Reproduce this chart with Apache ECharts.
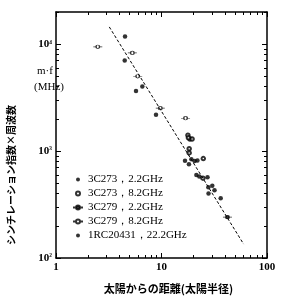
<!DOCTYPE html>
<html>
<head>
<meta charset="utf-8">
<script src="https://cdn.jsdelivr.net/npm/echarts@6/dist/echarts.min.js"></script>
<style>
  html, body { margin: 0; padding: 0; background: #fff; }
  #chart { width: 285px; height: 300px; }
</style>
</head>
<body>
<div id="chart"></div>
<script>
// ---- data (distance in solar radii, m*f in MHz) ----
const names = ['3C273，2.2GHz', '3C273，8.2GHz', '3C279，2.2GHz', '3C279，8.2GHz', '1RC20431，22.2GHz']

const c273s = [[16.7, 811], [18.2, 755], [19.2, 841], [20.6, 806], [21.9, 815], [21.4, 599], [22.8, 577],
  [27.3, 570], [27.8, 459], [30.3, 474], [31.8, 430], [27.9, 401], [36.4, 362]]
const c273x = [[17.8, 1405], [18.6, 1296], [19.5, 1296], [18.0, 1330], [18.3, 1051], [18.3, 962], [24.9, 851], [24.7, 558]]
const c279s = [[42.2, 241]]
const c279x = [[2.49, 9440], [5.29, 8290], [5.95, 5010], [9.74, 2520], [16.9, 2030]]
const rc = [[4.51, 11800], [4.48, 7030], [6.58, 4010], [5.73, 3640], [8.87, 2190]]

// fitted line m*f ~ R^-1.6
const fitLine = [[3.2, 14500], [60, 135]]

const xMajor = [1, 10, 100]
const xMinor = [2, 3, 4, 5, 6, 7, 8, 9, 20, 30, 40, 50, 60, 70, 80, 90]
const yMajor = [100, 1000, 10000]
const yMinor = [200, 300, 400, 500, 600, 700, 800, 900, 2000, 3000, 4000, 5000, 6000, 7000, 8000, 9000, 20000]

const serif = 'Liberation Serif'
const cjk = 'Noto Sans CJK JP'
const barDot = 'path://M0,5L3,5M7,5L10,5M7,5A2,2,0,1,1,3,5A2,2,0,1,1,7,5Z'

const sup = { 2: '²', 3: '³', 4: '⁴' }

function xAx(pos, grid, major) {
  return {
    type: 'log', logBase: 10, min: 1, max: 100, position: pos, gridIndex: grid,
    axisLine: { show: major, lineStyle: { color: '#000', width: 1.5 } },
    axisTick: { show: true, inside: true, length: major ? 5 : 3, customValues: major ? xMajor : xMinor, lineStyle: { color: '#000' } },
    axisLabel: { show: major && pos === 'bottom', customValues: xMajor, margin: 4, color: '#000', fontFamily: serif, fontSize: 11, fontWeight: 'bold' },
    minorTick: { show: false }, splitLine: { show: false }
  }
}
function yAx(pos, grid, major) {
  return {
    type: 'log', logBase: 10, min: 100, max: 20000, position: pos, gridIndex: grid,
    axisLine: { show: major, lineStyle: { color: '#000', width: 1.5 } },
    axisTick: { show: true, inside: true, length: major ? 5 : 3, customValues: major ? yMajor : yMinor, lineStyle: { color: '#000' } },
    axisLabel: {
      show: major && pos === 'left', customValues: yMajor, margin: 4,
      formatter: v => '{a|10}{b|' + sup[Math.round(Math.log10(v))] + '}',
      rich: {
        a: { color: '#000', fontFamily: serif, fontSize: 11, fontWeight: 'bold' },
        b: { color: '#000', fontFamily: serif, fontSize: 9, fontWeight: 'bold', verticalAlign: 'top' }
      }
    },
    minorTick: { show: false }, splitLine: { show: false }
  }
}

let myChart = echarts.init(document.getElementById('chart'))

let option = {
  animation: false,
  grid: [
    { left: 56, right: 18, top: 12, bottom: 42 },
    { left: 56, right: 18, top: 12, bottom: 42 }
  ],
  xAxis: [
    Object.assign(xAx('bottom', 0, true), {
      name: '太陽からの距離(太陽半径)', nameLocation: 'middle', nameGap: 25,
      nameTextStyle: { fontFamily: cjk, fontSize: 11, color: '#000', fontWeight: 'bold', padding: [0, 0, 0, 14] }
    }),
    xAx('top', 0, true),
    xAx('bottom', 1, false),
    xAx('top', 1, false)
  ],
  yAxis: [
    yAx('left', 0, true),
    yAx('right', 0, true),
    yAx('left', 1, false),
    yAx('right', 1, false)
  ],
  legend: {
    orient: 'vertical', left: 67, top: 169, itemWidth: 10, itemHeight: 4, itemGap: 3,
    data: names,
    textStyle: { fontFamily: serif, fontSize: 11, color: '#000', lineHeight: 11 }
  },
  graphic: [
    { type: 'text', left: 37, top: 66, style: { text: 'm·f', font: '11px "Liberation Serif"', fill: '#000' } },
    { type: 'text', left: 34, top: 82, style: { text: '(MHz)', font: '11px "Liberation Serif"', fill: '#000' } },
    {
      type: 'text', x: 11, y: 175, rotation: Math.PI / 2,
      style: { text: 'シンチレーション指数×周波数', font: 'bold 10px "Noto Sans CJK JP"', fill: '#000', align: 'center', verticalAlign: 'middle' }
    }
  ],
  series: [
    { name: names[0], type: 'scatter', data: c273s, symbol: 'circle', symbolSize: 4.5, itemStyle: { color: '#000' } },
    { name: names[1], type: 'scatter', data: c273x, symbol: 'emptyCircle', symbolSize: 3.5, itemStyle: { color: '#000', borderWidth: 0.9 } },
    { name: names[2], type: 'scatter', data: c279s, symbol: barDot, symbolSize: [9, 3.6], itemStyle: { color: '#000', borderColor: '#000', borderWidth: 1 } },
    { name: names[3], type: 'scatter', data: c279x, symbol: barDot, symbolSize: [9, 3.6], itemStyle: { color: '#fff', borderColor: '#000', borderWidth: 1 } },
    { name: names[4], type: 'scatter', data: rc, symbol: 'circle', symbolSize: 4.5, itemStyle: { color: '#000' } },
    {
      type: 'line', data: fitLine, symbol: 'none', silent: true,
      lineStyle: { color: '#000', width: 1, type: [3, 2] }
    }
  ]
}

myChart.setOption(option)
</script>
</body>
</html>
